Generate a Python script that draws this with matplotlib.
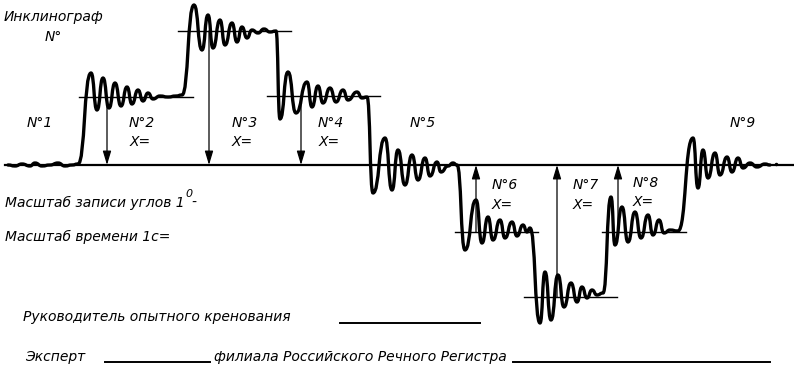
import matplotlib
matplotlib.use("Agg")
import matplotlib.pyplot as plt
from matplotlib.path import Path
from matplotlib.patches import PathPatch

# Inclinograph trace (pixel coords, y down)
trace_x = [8, 15, 22, 30, 35, 42, 50, 58, 65, 72, 78,
           91, 97, 103, 109, 115, 121, 127, 132, 138, 143, 148, 153, 160, 168, 176, 182,
           194, 202, 208, 213, 220, 225, 232, 237, 242, 247, 252, 258, 264, 270, 276,
           280, 288, 296, 307, 312, 318, 323, 330, 336, 343, 348, 357, 362, 367,
           373, 385, 392, 398, 405, 412, 418, 425, 430, 437, 441, 448, 453, 457,
           465, 476, 482, 488, 493, 500, 505, 512, 517, 523, 527, 530,
           540, 545, 551, 558, 564, 571, 577, 582, 587, 592, 597, 603,
           611, 615, 622, 628, 635, 641, 648, 653, 659, 664, 670, 678,
           693, 698, 703, 708, 715, 720, 727, 732, 738, 743, 750, 757, 765, 770]
trace_y = [165, 166, 164, 166, 163, 166, 165, 163, 166, 165, 164,
           73, 110, 78, 108, 83, 106, 87, 104, 90, 101, 93, 99, 96, 97, 96, 95,
           5, 50, 15, 48, 20, 45, 23, 42, 27, 38, 30, 33, 29, 32, 31,
           119, 72, 113, 82, 107, 86, 103, 88, 102, 90, 100, 92, 98, 97,
           193, 138, 190, 150, 185, 155, 180, 158, 176, 162, 172, 166, 163, 165,
           250, 200, 243, 217, 240, 220, 238, 222, 236, 225, 232, 228,
           323, 272, 320, 275, 307, 283, 302, 287, 298, 290, 295, 293,
           197, 245, 207, 242, 212, 238, 215, 235, 220, 233, 230, 231,
           138, 188, 150, 178, 153, 175, 157, 172, 158, 168, 163, 167, 164, 165]

# Reference levels: (x start, x end, y)
level_x0 = [79, 178, 267, 455, 524, 602]
level_x1 = [193, 291, 380, 538, 617, 686]
level_y = [97, 31, 96, 232, 297, 232]
arrow_x = [107, 209, 301, 476, 557, 618]

baseline_y = 165

point_labels = ["N°1", "N°2", "N°3", "N°4", "N°5", "N°6", "N°7", "N°8", "N°9"]
point_lx = [27, 129, 232, 318, 410, 492, 573, 633, 730]
point_ly = [123, 123, 123, 123, 123, 185, 185, 183, 123]
x_labels_x = [130, 232, 319, 492, 573, 633]
x_labels_y = [142, 142, 142, 205, 205, 202]

fig = plt.figure(figsize=(7.94, 3.72), dpi=100)
ax = fig.add_axes([0, 0, 1, 1])
ax.set_xlim(0, 794)
ax.set_ylim(372, 0)
ax.axis("off")

# smooth trace: cubic segments with flat tangents at each turning point
verts = [(trace_x[0], trace_y[0])]
codes = [Path.MOVETO]
for i in range(1, len(trace_x)):
    x0, y0 = trace_x[i - 1], trace_y[i - 1]
    x1, y1 = trace_x[i], trace_y[i]
    d = (x1 - x0) * 0.55
    verts += [(x0 + d, y0), (x1 - d, y1), (x1, y1)]
    codes += [Path.CURVE4] * 3
ax.add_patch(PathPatch(Path(verts, codes), fill=False, lw=2.4, color="black",
                       capstyle="round", joinstyle="round"))
ax.plot([776], [164], marker="o", ms=1.5, color="black")

# baseline and level lines
ax.plot([5, 793], [baseline_y, baseline_y], color="black", lw=1.6)
for x0, x1, y in zip(level_x0, level_x1, level_y):
    ax.plot([x0, x1], [y, y], color="black", lw=1.0)

for xa, y in zip(arrow_x, level_y):
    ax.annotate("", xy=(xa, baseline_y), xytext=(xa, y),
                arrowprops=dict(arrowstyle="-|>,head_length=0.6,head_width=0.18",
                                mutation_scale=14, lw=0.9, color="black",
                                shrinkA=0, shrinkB=0))

txt = dict(family=["DejaVu Sans"], style="italic", fontsize=10, color="black")
ax.text(4, 17, "Инклинограф", va="center", ha="left", **txt)
ax.text(45, 37, "N°", va="center", ha="left", **txt)
for s, x, y in zip(point_labels, point_lx, point_ly):
    ax.text(x, y, s, va="center", ha="left", **txt)
for x, y in zip(x_labels_x, x_labels_y):
    ax.text(x, y, "X=", va="center", ha="left", **txt)

# scale line with a raised "0" after the "1"
t = ax.text(5, 203, "Масштаб записи углов 1", va="center", ha="left", **txt)
fig.canvas.draw()
x_end = t.get_window_extent().x1
ax.text(x_end + 1, 194, "0", va="center", ha="left", family=["DejaVu Sans"],
        style="italic", fontsize=8, color="black")
ax.text(x_end + 7, 203, "-", va="center", ha="left", **txt)

ax.text(5, 237, "Масштаб времени 1с=", va="center", ha="left", **txt)
ax.text(23, 317, "Руководитель опытного кренования", va="center", ha="left", **txt)
ax.plot([340, 480], [323, 323], color="black", lw=1.4)
ax.text(25, 357, "Эксперт", va="center", ha="left", **txt)
ax.plot([105, 210], [362, 362], color="black", lw=1.4)
ax.text(214, 357, "филиала Российского Речного Регистра", va="center", ha="left", **txt)
ax.plot([513, 770], [362, 362], color="black", lw=1.4)

fig.savefig("out.png", dpi=100, facecolor="white")
